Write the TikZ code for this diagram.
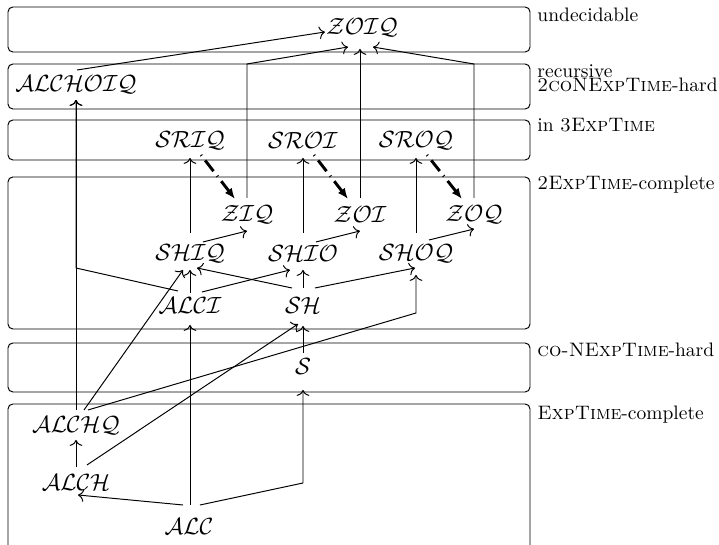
\documentclass[tikz,border=0pt]{standalone}
\usetikzlibrary{calc,arrows.meta}
\begin{document}
\begin{tikzpicture}[x=0.5128pt,y=-0.5128pt, line width=0.5pt,
  box/.style={draw, rounded corners=2.5pt},
  dl/.style={font=\large, inner sep=0pt},
  lab/.style={anchor=base west, inner sep=0pt},
  arr/.style={-{To[length=3pt,width=6.5pt]}},
  reduct/.style={-{Latex[length=5.5pt,width=4.5pt]}, line width=1.5pt, dash pattern=on 0.5pt off 3pt on 7pt off 3pt}]
\useasboundingbox (0,0) rectangle (719,545);
\clip (0,0) rectangle (719,545);
% complexity bands
\draw[box] (8,7) rectangle (530,52);
\draw[box] (8,64) rectangle (530,109);
\draw[box] (8,120) rectangle (530,160);
\draw[box] (8,177) rectangle (530,329);
\draw[box] (8,343) rectangle (530,392);
\draw[box] (8,404) rectangle (530,555);
% band labels
\node[lab] (l1) at (537,22) {undecidable};
\node[lab] (l2a) at (537,78) {recursive};
\node[lab] (l2b) at (537,92) {\textsc{2coNExpTime}-hard};
\node[lab] (l3) at (537,132) {in \textsc{3ExpTime}};
\node[lab] (l4) at (537,190) {\textsc{2ExpTime}-complete};
\node[lab] (l5) at (537,357) {\textsc{co-NExpTime}-hard};
\node[lab] (l6) at (537,420) {\textsc{ExpTime}-complete};
% logics
\node[dl] (ZOIQ) at (362,28) {$\mathcal{ZOIQ}$};
\node[dl] (ALCHOIQ) at (76,85) {$\mathcal{ALCHOIQ}$};
\node[dl] (SRIQ) at (190,141) {$\mathcal{SRIQ}$};
\node[dl] (SROI) at (303,141) {$\mathcal{SROI}$};
\node[dl] (SROQ) at (416,141) {$\mathcal{SROQ}$};
\node[dl] (ZIQ) at (247,215) {$\mathcal{ZIQ}$};
\node[dl] (ZOI) at (360,215) {$\mathcal{ZOI}$};
\node[dl] (ZOQ) at (474,215) {$\mathcal{ZOQ}$};
\node[dl] (SHIQ) at (190,254) {$\mathcal{SHIQ}$};
\node[dl] (SHIO) at (303,254) {$\mathcal{SHIO}$};
\node[dl] (SHOQ) at (416,254) {$\mathcal{SHOQ}$};
\node[dl] (ALCI) at (190,306) {$\mathcal{ALCI}$};
\node[dl] (SH) at (303,306) {$\mathcal{SH}$};
\node[dl] (S) at (303,367) {$\mathcal{S}$};
\node[dl] (ALCHQ) at (76,426) {$\mathcal{ALCHQ}$};
\node[dl] (ALCH) at (76,483) {$\mathcal{ALCH}$};
\node[dl] (ALC) at (189,527) {$\mathcal{ALC}$};
% connectors
\draw[arr] ($(ALCHOIQ)+(1,-15)$) -- ($(ZOIQ)+(-37,4)$);
\draw[arr] ($(ZIQ)+(0,-17)$) -- ($(ZIQ)+(0,-151)$) -- ($(ZOIQ)+(-14,19)$);
\draw[arr] ($(ZOI)+(0,-17)$) -- ($(ZOI)+(0,-166)$);
\draw[arr] ($(ZOQ)+(0,-17)$) -- ($(ZOQ)+(0,-151)$) -- ($(ZOIQ)+(11,19)$);
\draw[reduct] ($(SRIQ)+(11,14)$) -- ($(ZIQ)+(-12,-16)$);
\draw[reduct] ($(SROI)+(11,14)$) -- ($(ZOI)+(-12,-16)$);
\draw[reduct] ($(SROQ)+(11,14)$) -- ($(ZOQ)+(-12,-16)$);
\draw[arr] ($(SHIQ)+(0,-21)$) -- ($(SRIQ)+(0,17)$);
\draw[arr] ($(SHIO)+(0,-21)$) -- ($(SROI)+(0,17)$);
\draw[arr] ($(SHOQ)+(0,-21)$) -- ($(SROQ)+(0,17)$);
\draw[arr] ($(SHIQ)+(13,-12)$) -- ($(ZIQ)+(0,16)$);
\draw[arr] ($(SHIO)+(13,-12)$) -- ($(ZOI)+(0,16)$);
\draw[arr] ($(SHOQ)+(13,-14)$) -- ($(ZOQ)+(0,14)$);
\draw[arr] ($(ALCI)+(0,-13)$) -- ($(SHIQ)+(0,16)$);
\draw[arr] ($(ALCI)+(12,-14)$) -- ($(SHIO)+(-13,16)$);
\draw[arr] ($(SH)+(-11,-18)$) -- ($(SHIQ)+(7,14)$);
\draw[arr] ($(SH)+(0,-18)$) -- ($(SHIO)+(0,16)$);
\draw[arr] ($(SH)+(12,-18)$) -- ($(SHOQ)+(-1,14)$);
\draw[arr] ($(ALCI)+(-12,-15)$) -- ($(ALCHOIQ)+(0,183)$) -- ($(ALCHOIQ)+(0,15)$);
\draw[arr] ($(ALCHQ)+(0,-16)$) -- ($(ALCHOIQ)+(0,15)$);
\draw[arr] ($(ALCHQ)+(8,-16)$) -- ($(SHIQ)+(-7,16)$);
\draw[arr] ($(ALCHQ)+(12,-16)$) -- ($(SHOQ)+(0,59)$) -- ($(SHOQ)+(0,21)$);
\draw[arr] ($(ALCH)+(11,-18)$) -- ($(SH)+(-5,18)$);
\draw[arr] ($(ALCH)+(0,-16)$) -- ($(ALCHQ)+(0,14)$);
\draw[arr] ($(ALC)+(-6,-22)$) -- ($(ALCH)+(2,12)$);
\draw[arr] ($(ALC)+(1,-22)$) -- ($(ALCI)+(0,19)$);
\draw[arr] ($(ALC)+(11,-22)$) -- ($(S)+(0,116)$) -- ($(S)+(0,23)$);
\draw[arr] ($(S)+(0,-14)$) -- ($(SH)+(0,20)$);
\end{tikzpicture}
\end{document}
